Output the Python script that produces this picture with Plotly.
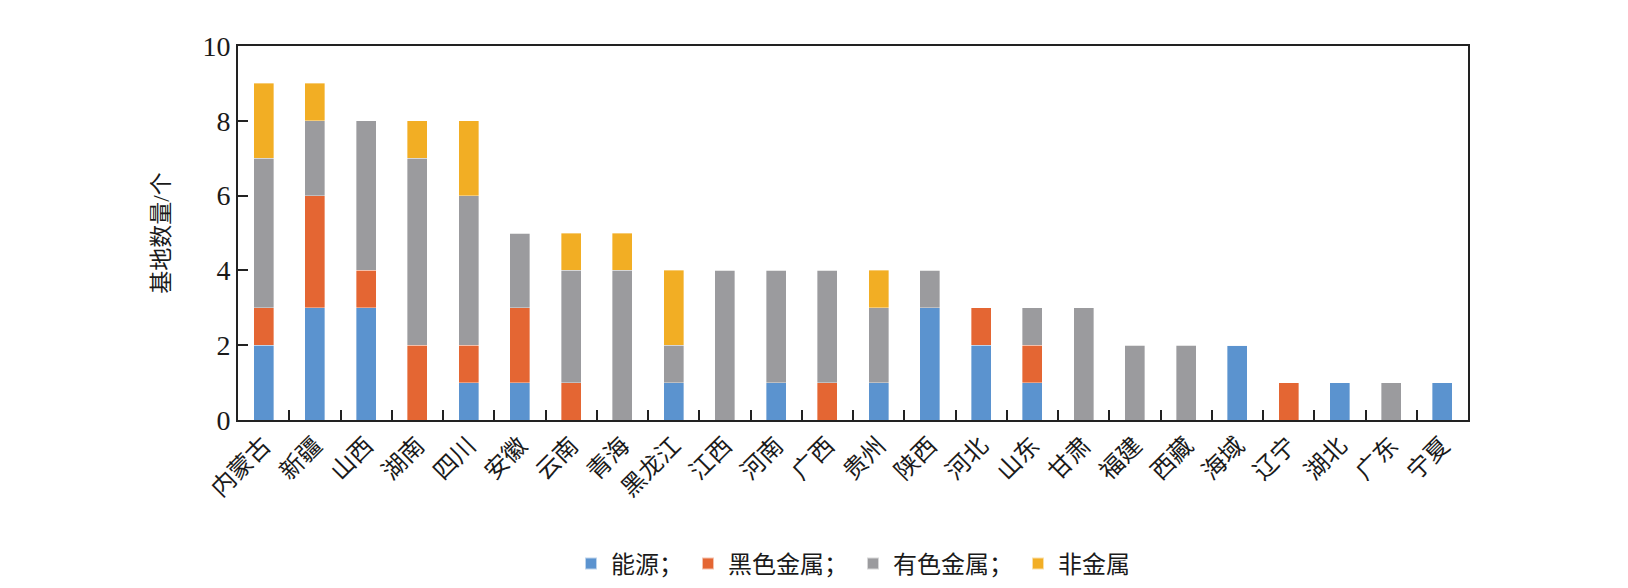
import plotly.graph_objects as go

provinces = ["内蒙古", "新疆", "山西", "湖南", "四川", "安徽", "云南", "青海", "黑龙江", "江西",
             "河南", "广西", "贵州", "陕西", "河北", "山东", "甘肃", "福建", "西藏", "海域",
             "辽宁", "湖北", "广东", "宁夏"]
energy = [2, 3, 3, 0, 1, 1, 0, 0, 1, 0, 1, 0, 1, 3, 2, 1, 0, 0, 0, 2, 0, 1, 0, 1]
ferrous = [1, 3, 1, 2, 1, 2, 1, 0, 0, 0, 0, 1, 0, 0, 1, 1, 0, 0, 0, 0, 1, 0, 0, 0]
nonferrous = [4, 2, 4, 5, 4, 2, 3, 4, 1, 4, 3, 3, 2, 1, 0, 1, 3, 2, 2, 0, 0, 0, 1, 0]
nonmetal = [2, 1, 0, 1, 2, 0, 1, 1, 2, 0, 0, 0, 1, 0, 0, 0, 0, 0, 0, 0, 0, 0, 0, 0]
series_names = ["能源；", "黑色金属；", "有色金属；", "非金属"]
colors = ["#5B93CF", "#E46633", "#9B9B9E", "#F2AE24"]
y_ticks = [0, 2, 4, 6, 8, 10]

FONT = "Liberation Serif, Noto Sans CJK SC"

fig = go.Figure()
for name, vals, c in zip(series_names, [energy, ferrous, nonferrous, nonmetal], colors):
    fig.add_trace(go.Bar(
        x=provinces, y=vals, name=name,
        marker=dict(color=c, line=dict(color="rgba(255,255,255,0.6)", width=0.6)),
    ))

fig.update_layout(
    barmode="stack",
    bargap=0.61,
    width=1628, height=588,
    margin=dict(l=230, r=168, t=38, b=176, autoexpand=False),
    plot_bgcolor="white", paper_bgcolor="white",
    font=dict(family=FONT, size=23, color="#1a1a1a"),
    showlegend=True,
    legend=dict(orientation="h", x=0.5, xanchor="center", y=-0.385, yanchor="middle",
                font=dict(family=FONT, size=24), traceorder="normal",
                itemwidth=30, itemsizing="constant"),
    xaxis=dict(
        type="category", tickangle=-45, automargin=False,
        showline=True, linecolor="#222", linewidth=2, mirror=True,
        ticks="inside", ticklen=10, tickcolor="#222", tickwidth=1.5,
        tickson="boundaries",
        tickfont=dict(family=FONT, size=24),
        range=[-0.5, len(provinces) - 0.5],
    ),
    yaxis=dict(
        range=[0, 10], tickvals=y_ticks, ticktext=[str(v) for v in y_ticks],
        showline=True, linecolor="#222", linewidth=2, mirror=True, automargin=False,
        ticks="inside", ticklen=10, tickcolor="#222", tickwidth=1.5,
        showgrid=False, zeroline=False,
        tickfont=dict(family=FONT, size=28),
        title=dict(text="基地数量/个", font=dict(family=FONT, size=23), standoff=26),
    ),
)

fig.write_html("out.html")
